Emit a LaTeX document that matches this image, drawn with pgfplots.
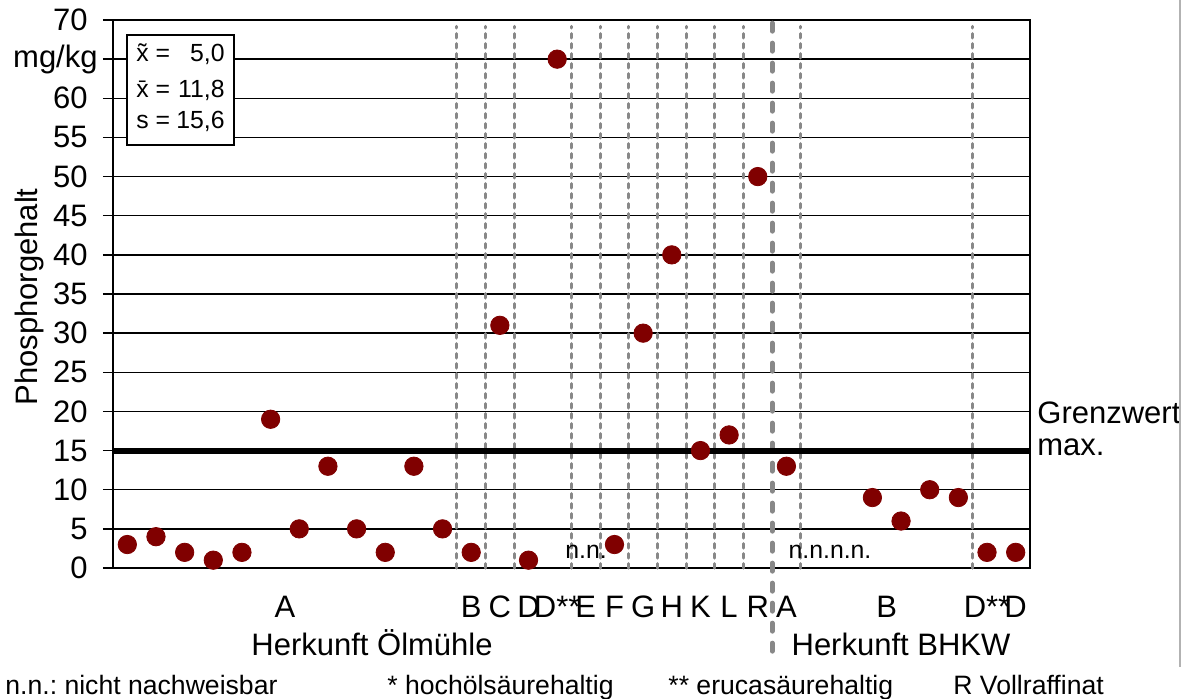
\documentclass[border=0pt]{standalone}
\usepackage{fontspec}
\setmainfont{Liberation Sans}
\usepackage{pgfplots}
\pgfplotsset{compat=1.18}
\definecolor{dotred}{HTML}{800000}
\definecolor{dgray}{HTML}{888888}
\newcommand\mainfont{\fontsize{15.5}{18}\selectfont}
\newcommand\footfont{\fontsize{13.3}{16}\selectfont}
\newcommand\boxfont{\fontsize{12.4}{14}\selectfont}
\frenchspacing
\begin{document}
\begin{tikzpicture}
\useasboundingbox (0,0) rectangle (593.5pt,349pt);
\begin{axis}[
  at={(56.5pt,65pt)}, anchor=south west,
  scale only axis, width=458.5pt, height=274pt,
  xmin=-0.5, xmax=31.5, ymin=0, ymax=70,
  clip=false,
  axis line style={line width=1.4pt},
  ytick={0,5,...,70},
  yticklabels={0,5,10,15,20,25,30,35,40,45,50,55,60,{},70},
  ymajorgrids, major grid style={black, line width=0.75pt},
  tick align=outside, major tick length=5pt,
  ytick pos=left, xtick pos=bottom,
  ytick style={black, line width=0.75pt},
  xtick style={draw=none},
  xtick={5.5,12,13,14,15,16,17,18,19,20,21,22,23,26.5,30,31},
  xticklabels={A,B,C,D,D**,E,F,G,H,K,L,R,A,B,D**,D},
  every tick label/.append style={font=\mainfont},
  /pgf/number format/assume math mode=true,
  yticklabel style={anchor=east, inner sep=0pt, xshift=-7.5pt},
  xticklabel style={anchor=base, inner sep=0pt, yshift=-19.5pt},
]
\pgfplotsextra{
  \tikzset{vd/.style={dgray, line width=1.5pt, line cap=round, dash pattern=on 2.2pt off 2.8pt}}
  \draw[vd] (axis cs:11.5,0) -- (axis cs:11.5,69.2);
  \draw[vd] (axis cs:12.5,0) -- (axis cs:12.5,69.2);
  \draw[vd] (axis cs:13.5,0) -- (axis cs:13.5,69.2);
  \draw[vd] (axis cs:15.5,0) -- (axis cs:15.5,69.2);
  \draw[vd] (axis cs:16.5,0) -- (axis cs:16.5,69.2);
  \draw[vd] (axis cs:17.5,0) -- (axis cs:17.5,69.2);
  \draw[vd] (axis cs:18.5,0) -- (axis cs:18.5,69.2);
  \draw[vd] (axis cs:19.5,0) -- (axis cs:19.5,69.2);
  \draw[vd] (axis cs:20.5,0) -- (axis cs:20.5,69.2);
  \draw[vd] (axis cs:21.5,0) -- (axis cs:21.5,69.2);
  \draw[vd] (axis cs:23.5,0) -- (axis cs:23.5,69.2);
  \draw[vd] (axis cs:29.5,0) -- (axis cs:29.5,69.2);
  \draw[dgray, line width=2.5pt, line cap=round, dash pattern=on 4pt off 6pt] (axis cs:22.5,69.6) -- (axis cs:22.5,-12.1);
}
\addplot[black, line width=3pt, forget plot] coordinates {(-0.5,15) (31.5,15)};
\addplot[only marks, mark=*, mark size=4.6pt, mark options={fill=dotred, draw=dotred}] table {
x y
0 3
1 4
2 2
3 1
4 2
5 19
6 5
7 13
8 5
9 2
10 13
11 5
12 2
13 31
14 1
15 65
17 3
18 30
19 40
20 15
21 17
22 50
23 13
26 9
27 6
28 10
29 9
30 2
31 2
};
\end{axis}
\begin{scope}[shift={(0pt,349pt)}, x=0.5pt, y=-0.5pt]
  \node[anchor=east, inner sep=0pt, font=\mainfont] at (98,59) {mg/kg};
  \node[anchor=base, rotate=90, inner sep=0pt, font=\mainfont] at (37,297) {Phosphorgehalt};
  \node[anchor=base west, inner sep=0pt, font=\mainfont] at (1037,423) {Grenzwert};
  \node[anchor=base west, inner sep=0pt, font=\mainfont] at (1037,455) {max.};
  \node[anchor=base, inner sep=0pt, font=\mainfont] at (372,655) {Herkunft Ölmühle};
  \node[anchor=base, inner sep=0pt, font=\mainfont] at (901,655) {Herkunft BHKW};
  \node[anchor=base west, inner sep=0pt, font=\footfont] at (5,694) {n.n.: nicht nachweisbar};
  \node[anchor=base west, inner sep=0pt, font=\footfont] at (387,694) {* hochölsäurehaltig};
  \node[anchor=base west, inner sep=0pt, font=\footfont] at (668,694) {** erucasäurehaltig};
  \node[anchor=base west, inner sep=0pt, font=\footfont] at (953,694) {R Vollraffinat};
  \node[anchor=base, inner sep=0pt, font=\boxfont] at (586,558) {n.n.};
  \node[anchor=base, inner sep=0pt, font=\boxfont] at (830,558) {n.n.n.n.};
  \draw[black, line width=0.6pt, fill=white] (127,35) rectangle (234,145);
  \node[anchor=base west, inner sep=0pt, font=\boxfont] at (136,62) {\~{x} =};
  \node[anchor=base east, inner sep=0pt, font=\boxfont] at (225,62) {5,0};
  \node[anchor=base west, inner sep=0pt, font=\boxfont] at (136,97) {\={x} =};
  \node[anchor=base east, inner sep=0pt, font=\boxfont] at (225,97) {11,8};
  \node[anchor=base west, inner sep=0pt, font=\boxfont] at (136,128) {s =};
  \node[anchor=base east, inner sep=0pt, font=\boxfont] at (225,128) {15,6};
  \draw[black!30, line width=0.6pt] (1180,0) -- (1180,667);
\end{scope}
\end{tikzpicture}
\end{document}
